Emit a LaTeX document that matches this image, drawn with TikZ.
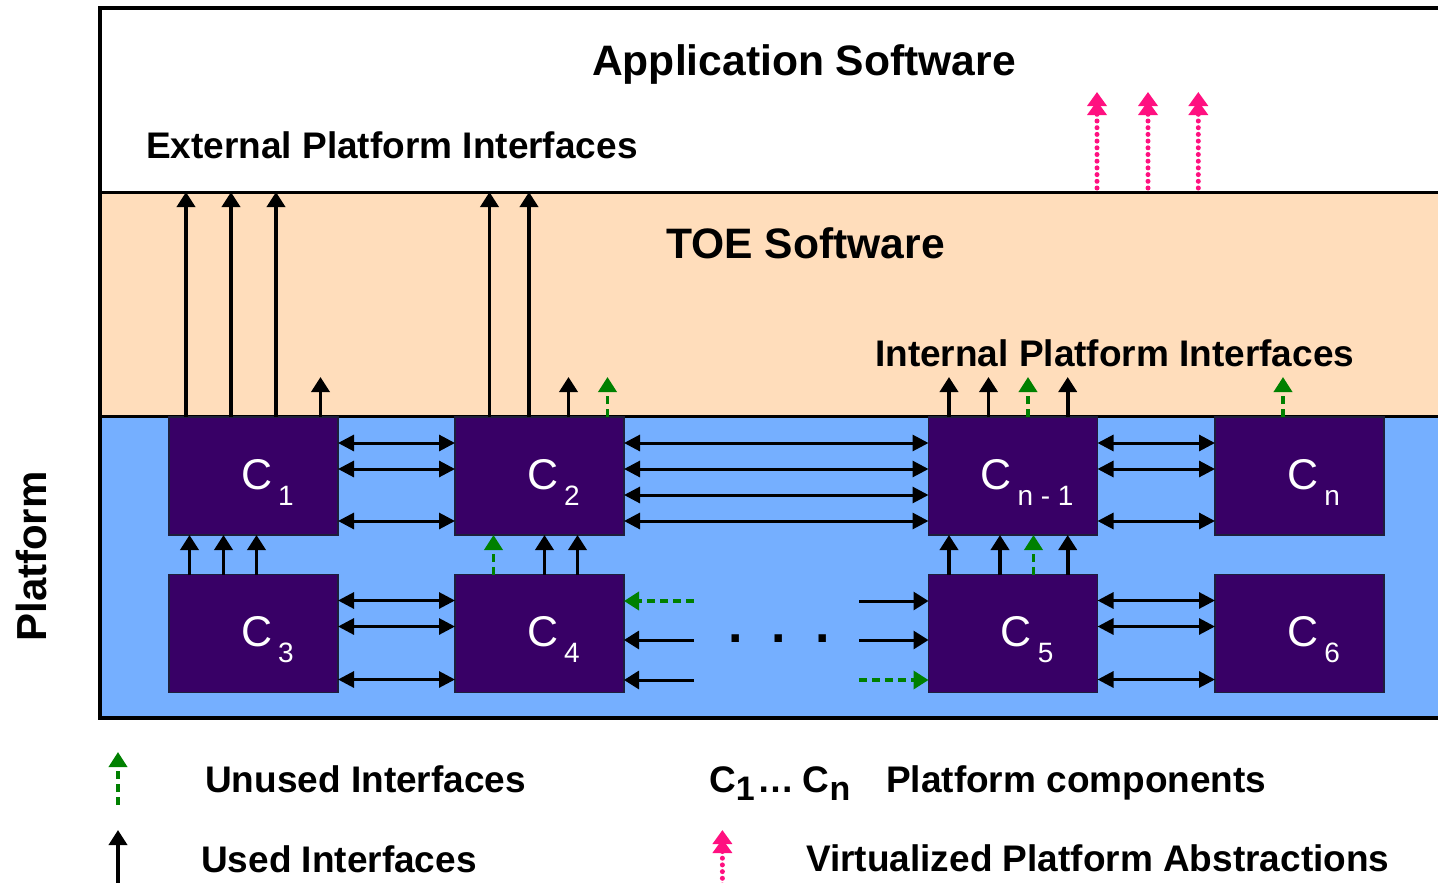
\documentclass[tikz,border=0pt]{standalone}
\usepackage{fontspec}
\usepackage{graphicx}
\setmainfont{Liberation Sans}
\usetikzlibrary{arrows.meta,calc}
\definecolor{peach}{RGB}{255,221,187}
\definecolor{platblue}{RGB}{117,175,255}
\definecolor{comppurple}{RGB}{56,0,102}
\definecolor{compborder}{RGB}{30,30,60}
\definecolor{ugreen}{RGB}{0,128,0}
\definecolor{vpink}{RGB}{255,16,128}
\newcommand{\complab}[1]{{\fontsize{43}{43}\selectfont C}\hspace{6pt}\raisebox{-16pt}{\fontsize{28}{28}\selectfont #1}}
\newcommand{\legsub}[1]{\raisebox{-8pt}{\fontsize{34}{34}\selectfont #1}}
\tikzset{
  layer/.style={anchor=north west, inner sep=0pt, outer sep=0pt, minimum width=1350pt},
  frameline/.style={line width=3.6pt, black},
  divline/.style={line width=3pt, black},
  comp/.style={draw=compborder, line width=1.5pt, fill=comppurple, minimum width=169pt, minimum height=118pt, inner sep=0pt, outer sep=0pt},
  complabel/.style={text=white, anchor=base, inner sep=0pt},
  titletext/.style={font=\bfseries\fontsize{42.6}{50}\selectfont, anchor=base west, inner sep=0pt},
  subtext/.style={font=\bfseries\fontsize{37}{44}\selectfont, anchor=base west, inner sep=0pt},
  used/.style={line width=3.6pt, black, -{Triangle[width=18pt,length=15pt]}},
  unused/.style={line width=3.6pt, ugreen, dash pattern=on 8pt off 5pt, -{Triangle[width=18pt,length=15pt]}},
  bi/.style={line width=3pt, black, {Triangle[width=16pt,length=16pt]}-{Triangle[width=16pt,length=16pt]}},
  virt/.style={line width=5pt, vpink, line cap=round, dash pattern=on 0pt off 6.7pt, -{Triangle[width=19pt,length=14pt,sep=-5pt]Triangle[width=19pt,length=14pt]}},
}
\begin{document}
\begin{tikzpicture}[x=1pt,y=-1pt]
\useasboundingbox (0,0) rectangle (1438,883);
% layers
\node[layer, fill=white, minimum height=184pt] (app) at (100,8) {};
\node[layer, fill=peach, minimum height=224pt] (toe) at (100,192) {};
\node[layer, fill=platblue, minimum height=302pt] (plat) at (100,416) {};
\draw[frameline] (app.north east) -- (app.north west) -- (plat.south west) -- (plat.south east);
\draw[divline] (toe.north west) -- (toe.north east);
\draw[divline] (plat.north west) -- (plat.north east);

% texts
\node[titletext] (apptxt) at (592,75) {Application Software};
\node[titletext] (toetxt) at (666,258) {TOE Software};
\node[subtext] (exttxt) at (146,158) {External Platform Interfaces};
\node[subtext] (inttxt) at (875,366) {Internal Platform Interfaces};
\node[rotate=90, font=\bfseries\fontsize{42}{50}\selectfont, inner sep=0pt] (plattxt) at (31.5,556.5) {Platform};

% components
\node[comp] (c1) at (253.5,476) {};
\node[comp] (c2) at (539.5,476) {};
\node[comp] (cn1) at (1013,476) {};
\node[comp] (cn) at (1299.5,476) {};
\node[comp] (c3) at (253.5,633.5) {};
\node[comp] (c4) at (539.5,633.5) {};
\node[comp] (c5) at (1013,633.5) {};
\node[comp] (c6) at (1299.5,633.5) {};
\node[complabel] (c1t) at ([xshift=14pt,yshift=-13pt]c1.center) {\complab{1}};
\node[complabel] (c2t) at ([xshift=14pt,yshift=-13pt]c2.center) {\complab{2}};
\node[complabel] (cn1t) at ([xshift=14pt,yshift=-13pt]cn1.center) {\complab{n - 1}};
\node[complabel] (cnt) at ([xshift=14pt,yshift=-13pt]cn.center) {\complab{n}};
\node[complabel] (c3t) at ([xshift=14pt,yshift=-13pt]c3.center) {\complab{3}};
\node[complabel] (c4t) at ([xshift=14pt,yshift=-13pt]c4.center) {\complab{4}};
\node[complabel] (c5t) at ([xshift=14pt,yshift=-13pt]c5.center) {\complab{5}};
\node[complabel] (c6t) at ([xshift=14pt,yshift=-13pt]c6.center) {\complab{6}};

% external interfaces (to application layer)
\foreach \dx in {-67.5,-22.5,22.5}
  \draw[used] ([xshift=\dx pt]c1.north) -- ([xshift=\dx pt]c1.north |- toe.north);
\foreach \dx in {-50,-10.5}
  \draw[used] ([xshift=\dx pt]c2.north) -- ([xshift=\dx pt]c2.north |- toe.north);

% internal interfaces (to TOE)
\draw[used] ([xshift=67pt]c1.north) -- ([xshift=67pt,yshift=40pt]c1.north);
\draw[used] ([xshift=29pt]c2.north) -- ([xshift=29pt,yshift=40pt]c2.north);
\draw[unused] ([xshift=68pt]c2.north) -- ([xshift=68pt,yshift=40pt]c2.north);
\foreach \dx in {-64,-24.5,54.7}
  \draw[used] ([xshift=\dx pt]cn1.north) -- ([xshift=\dx pt,yshift=40pt]cn1.north);
\draw[unused] ([xshift=15pt]cn1.north) -- ([xshift=15pt,yshift=40pt]cn1.north);
\draw[unused] ([xshift=-16.5pt]cn.north) -- ([xshift=-16.5pt,yshift=40pt]cn.north);

% between rows
\foreach \dx in {-64,-30,3}
  \draw[used] ([xshift=\dx pt]c3.north) -- ([xshift=\dx pt]c1.south);
\draw[unused] ([xshift=-46pt]c4.north) -- ([xshift=-46pt]c2.south);
\foreach \dx in {5,38}
  \draw[used] ([xshift=\dx pt]c4.north) -- ([xshift=\dx pt]c2.south);
\foreach \dx in {-64,-13,54.7}
  \draw[used] ([xshift=\dx pt]c5.north) -- ([xshift=\dx pt]cn1.south);
\draw[unused] ([xshift=20.5pt]c5.north) -- ([xshift=20.5pt]cn1.south);

% horizontal bidirectional
\foreach \dy in {26,52,104}
  \draw[bi] ([yshift=-\dy pt]c1.north east) -- ([yshift=-\dy pt]c2.north west);
\foreach \dy in {26,52,78,104}
  \draw[bi] ([yshift=-\dy pt]c2.north east) -- ([yshift=-\dy pt]cn1.north west);
\foreach \dy in {26,52,104}
  \draw[bi] ([yshift=-\dy pt]cn1.north east) -- ([yshift=-\dy pt]cn.north west);
\foreach \dy in {26,52,105}
  \draw[bi] ([yshift=-\dy pt]c3.north east) -- ([yshift=-\dy pt]c4.north west);
\foreach \dy in {26,52,105}
  \draw[bi] ([yshift=-\dy pt]c5.north east) -- ([yshift=-\dy pt]c6.north west);

% gap between C4 and C5
\coordinate (ga) at (694,601);
\coordinate (gb) at (694,640);
\coordinate (gc) at (694,680);
\coordinate (gd) at (859,601);
\coordinate (ge) at (859,640);
\coordinate (gf) at (859,680);
\draw[unused] (ga) -- (ga -| c4.east);
\draw[used, line width=3pt] (gb) -- (gb -| c4.east);
\draw[used, line width=3pt] (gc) -- (gc -| c4.east);
\draw[used, line width=3pt] (gd) -- (gd -| c5.west);
\draw[used, line width=3pt] (ge) -- (ge -| c5.west);
\draw[unused] (gf) -- (gf -| c5.west);
\node[font=\bfseries\fontsize{52}{52}\selectfont, anchor=base, inner sep=0pt] (dots) at (779,642) {.\hspace{29pt}.\hspace{29pt}.};

% virtualized abstractions
\coordinate (v1) at (1097,188);
\coordinate (v2) at (1148,188);
\coordinate (v3) at (1198.3,188);
\draw[virt] (v1) -- ++(0,-96);
\draw[virt] (v2) -- ++(0,-96);
\draw[virt] (v3) -- ++(0,-96);

% legend
\coordinate (lg1) at (118,805);
\coordinate (lg1t) at (118,752);
\coordinate (lg2) at (118,885);
\coordinate (lg2t) at (118,830);
\coordinate (lg3) at (722.4,885);
\coordinate (lg3t) at (722.4,830);
\draw[unused] (lg1) -- (lg1t);
\draw[used] (lg2) -- (lg2t);
\draw[virt] (lg3) -- (lg3t);
\node[subtext] (unusedtxt) at (205,792) {Unused Interfaces};
\node[subtext] (usedtxt) at (201,872) {Used Interfaces};
\node[subtext] (cstxt) at (709,792) {C\legsub{1}\hspace{3pt}…\hspace{8pt}C\legsub{n}};
\node[subtext] (pctxt) at (886,792) {Platform components};
\node[subtext] (vpatxt) at (806,871) {Virtualized Platform Abstractions};
\end{tikzpicture}
\end{document}
